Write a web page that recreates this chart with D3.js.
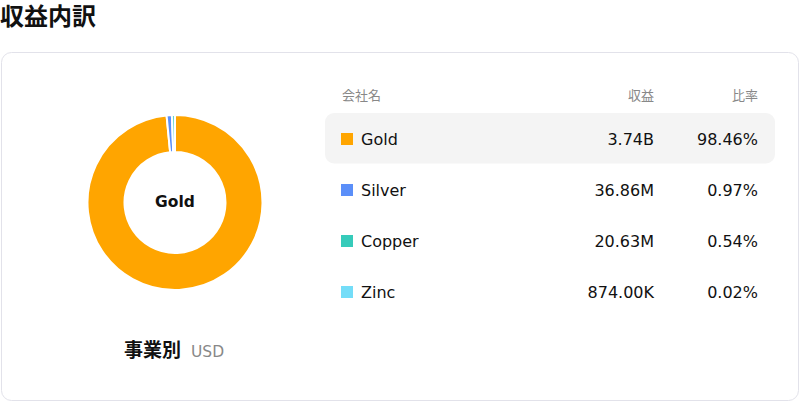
<!DOCTYPE html>
<html><head><meta charset="utf-8">
<script src="https://cdn.jsdelivr.net/npm/d3@7"></script>
<style>
html,body{margin:0;padding:0;background:#fff;}
svg{display:block;font-family:"DejaVu Sans","Noto Sans CJK JP",sans-serif;}
</style></head><body>
<svg id="c" width="800" height="402"></svg>
<script>
const categories = ["Gold", "Silver", "Copper", "Zinc"];
const revenues = [3740000000, 36860000, 20630000, 874000];
const revenueLabels = ["3.74B", "36.86M", "20.63M", "874.00K"];
const shareLabels = ["98.46%", "0.97%", "0.54%", "0.02%"];
const colors = ["#FFA500", "#5B8FF9", "#36CBBA", "#74DDF8"];
const headers = ["会社名", "収益", "比率"];
const title = "収益内訳";
const caption = "事業別";
const unit = "USD";

const svg = d3.select("#c");
const jp = '"Noto Sans CJK JP","DejaVu Sans",sans-serif';

svg.append("text").attr("x", 0).attr("y", 25)
  .attr("font-family", jp).attr("font-weight", 700).attr("font-size", 24)
  .attr("fill", "#111").text(title);

svg.append("rect").attr("x", 1.5).attr("y", 52.5).attr("width", 797).attr("height", 348)
  .attr("rx", 10).attr("fill", "#fff").attr("stroke", "#e2e2ea");

// donut
const cx = 175, cy = 202.5;
const data = categories.map((c, i) => ({name: c, value: revenues[i], color: colors[i]}));
const pie = d3.pie().sort(null).value(d => d.value);
const arc = d3.arc().innerRadius(50.5).outerRadius(87.5);
const g = svg.append("g").attr("transform", `translate(${cx},${cy})`);
g.selectAll("path").data(pie(data)).join("path")
  .attr("d", arc).attr("fill", d => d.data.color)
  .attr("stroke", "#fff").attr("stroke-width", 2);
g.append("text").attr("text-anchor", "middle").attr("y", 4.2)
  .attr("font-weight", 700).attr("font-size", 15.5).attr("fill", "#111").text(categories[0]);

// caption
const cap = svg.append("text").attr("y", 357).attr("x", 124);
cap.append("tspan").attr("font-family", jp).attr("font-weight", 700).attr("font-size", 19)
  .attr("fill", "#111").text(caption);
cap.append("tspan").attr("dx", 10).attr("font-size", 15.5).attr("fill", "#888").text(unit);

// table
const colX = [342, 654, 758];
const hdr = svg.append("g").attr("font-family", jp).attr("font-size", 13).attr("fill", "#888");
headers.forEach((h, i) => {
  hdr.append("text").attr("x", colX[i]).attr("y", 100)
    .attr("text-anchor", i === 0 ? "start" : "end").text(h);
});

const y = d3.scalePoint().domain(categories).range([138.5, 291.5]);
svg.append("rect").attr("x", 325).attr("y", y(categories[0]) - 25.5).attr("width", 450).attr("height", 50.5)
  .attr("rx", 9).attr("fill", "#f4f4f4");

const rows = svg.selectAll("g.row").data(data).join("g").attr("class", "row")
  .attr("transform", d => `translate(0,${y(d.name)})`);
rows.append("rect").attr("x", 341).attr("y", -5.5).attr("width", 12).attr("height", 12)
  .attr("fill", d => d.color);
rows.append("text").attr("x", 361).attr("y", 6).attr("font-size", 16).attr("fill", "#111")
  .text(d => d.name);
rows.append("text").attr("x", colX[1]).attr("y", 6).attr("text-anchor", "end")
  .attr("font-size", 16).attr("fill", "#111").text((d, i) => revenueLabels[i]);
rows.append("text").attr("x", colX[2]).attr("y", 6).attr("text-anchor", "end")
  .attr("font-size", 16).attr("fill", "#111").text((d, i) => shareLabels[i]);
</script></body></html>
